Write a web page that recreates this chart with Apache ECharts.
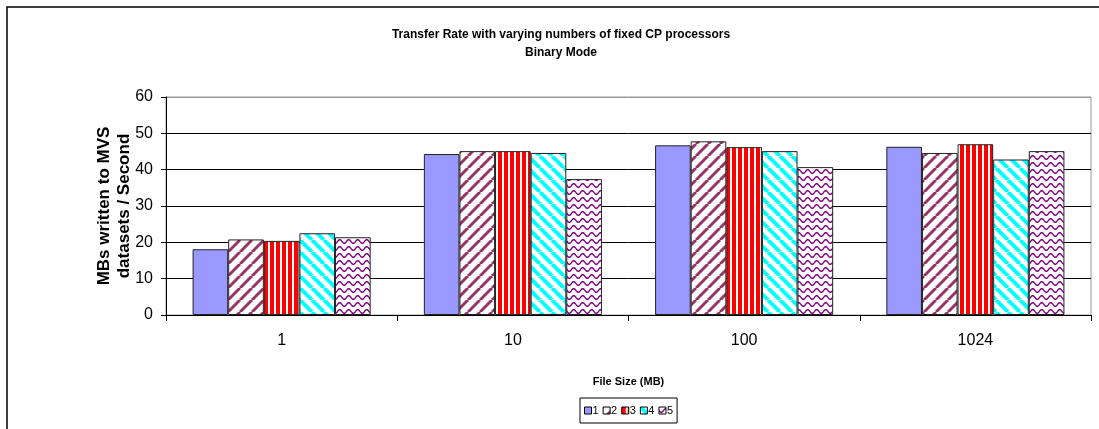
<!DOCTYPE html>
<html><head><meta charset="utf-8">
<script src="https://cdn.jsdelivr.net/npm/echarts@6/dist/echarts.min.js"></script>
<style>html,body{margin:0;padding:0;background:#fff}#c{width:1099px;height:429px}</style>
</head><body><div id="c"></div>
<script>
const categories = ['1', '10', '100', '1024'];
const seriesNames = ['1', '2', '3', '4', '5'];
const s1 = [18.1, 44.3, 46.7, 46.3];
const s2 = [20.8, 45.1, 47.8, 44.6];
const s3 = [20.4, 45.1, 46.2, 47.0];
const s4 = [22.5, 44.6, 45.1, 42.8];
const s5 = [21.4, 37.4, 40.7, 45.1];
const yTicks = [0, 10, 20, 30, 40, 50, 60];

function mk(w, h, draw) {
  const c = document.createElement('canvas');
  c.width = w; c.height = h;
  const g = c.getContext('2d');
  g.fillStyle = '#fff'; g.fillRect(0, 0, w, h);
  draw(g, w, h);
  return { image: c, repeat: 'repeat' };
}
function diag(color, rising, lw, s) {
  return mk(s, s, (g, w, h) => {
    g.strokeStyle = color; g.lineWidth = lw;
    for (let k = -1; k <= 1; k++) {
      g.beginPath();
      if (rising) { g.moveTo(k * w, h); g.lineTo(k * w + w, 0); }
      else { g.moveTo(k * w, 0); g.lineTo(k * w + w, h); }
      g.stroke();
    }
  });
}
const pat2 = diag('#993366', true, 3, 12);
const pat3 = mk(6, 6, (g) => { g.fillStyle = '#ff0000'; g.fillRect(0, 0, 4, 6); });
const pat4 = diag('#00ffff', false, 4, 12);
const pat5 = mk(9, 7, (g, w, h) => {
  g.strokeStyle = '#800080'; g.lineWidth = 1.4;
  g.beginPath();
  for (let x = -1; x <= w + 1; x += 0.5) {
    const y = 3.5 + 1.8 * Math.sin(x / w * 2 * Math.PI);
    if (x === -1) g.moveTo(x, y); else g.lineTo(x, y);
  }
  g.stroke();
});
const fills = ['#9999ff', pat2, pat3, pat4, pat5];
const values = [s1, s2, s3, s4, s5];

const chart = echarts.init(document.getElementById('c'), null, { renderer: 'canvas' });
const font = 'Liberation Sans, Arial, sans-serif';
chart.setOption({
  animation: false,
  textStyle: { fontFamily: font },
  graphic: [{
    type: 'rect', shape: { x: 7, y: 7, width: 1200, height: 600 },
    style: { fill: 'none', stroke: '#000', lineWidth: 1.5 }, z: -10, silent: true
  }, {
    type: 'rect', shape: { x: 166, y: 97, width: 925, height: 218 },
    style: { fill: 'none', stroke: '#999', lineWidth: 1 }, z: -5, silent: true
  }],
  title: {
    text: 'Transfer Rate with varying numbers of fixed CP processors\nBinary Mode',
    left: 556, top: 21, textAlign: 'center',
    textStyle: { fontSize: 12, fontWeight: 'bold', color: '#000', lineHeight: 18, fontFamily: font, align: 'center' }
  },
  legend: {
    data: seriesNames, left: 580, top: 398, orient: 'horizontal',
    itemWidth: 7, itemHeight: 7, itemGap: 4, icon: 'rect',
    borderColor: '#000', borderWidth: 1, padding: [7, 4, 7, 4],
    textStyle: { fontSize: 11, color: '#000', padding: [0, 0, 0, -4], fontFamily: font },
    itemStyle: { borderColor: '#000', borderWidth: 1 }
  },
  grid: { left: 166, top: 97, right: 8, bottom: 114, containLabel: false },
  xAxis: {
    type: 'category', data: categories,
    name: 'File Size (MB)', nameLocation: 'middle', nameGap: 61,
    nameTextStyle: { fontSize: 11, fontWeight: 'bold', color: '#000' },
    axisLine: { lineStyle: { color: '#000' } },
    axisTick: { show: true, length: 6, lineStyle: { color: '#000' } },
    axisLabel: { fontSize: 16, color: '#000', margin: 18 },
    splitLine: { show: false }
  },
  yAxis: {
    type: 'value', min: 0, max: 60, interval: 10,
    name: 'MBs written to MVS\ndatasets / Second', nameLocation: 'middle', nameRotate: 90, nameGap: 32,
    nameMoveOverlap: false,
    nameTextStyle: { fontSize: 17, fontWeight: 'bold', color: '#000', lineHeight: 20 },
    axisLine: { show: true, lineStyle: { color: '#000' } },
    axisTick: { show: true, length: 5, lineStyle: { color: '#000' } },
    axisLabel: { fontSize: 16, color: '#000', margin: 13, formatter: v => yTicks.includes(v) ? String(v) : '' },
    splitLine: { show: true, lineStyle: { color: ['#000', '#000', '#000', '#000', '#000', '#000', '#999'], width: 1 } }
  },
  series: values.map((d, i) => ({
    name: seriesNames[i], type: 'bar', data: d,
    barGap: '0%', barCategoryGap: '23%',
    itemStyle: { color: fills[i], borderColor: '#222', borderWidth: 1 }
  }))
});
</script></body></html>
